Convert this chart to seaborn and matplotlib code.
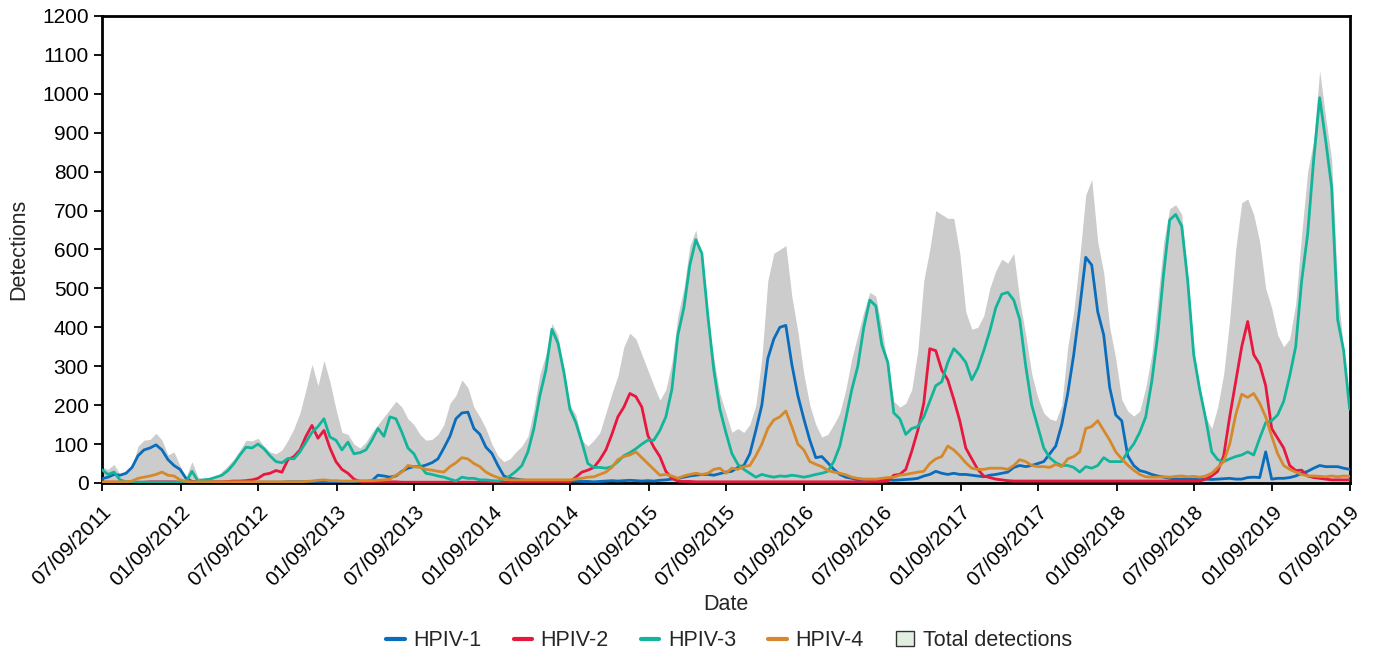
import pandas as pd
import seaborn as sns
import matplotlib.pyplot as plt
import matplotlib.dates as mdates
from matplotlib.patches import Patch
from matplotlib.lines import Line2D

# fortnightly points, 07/09/2011 -> 07/09/2019
dates = pd.date_range('2011-07-09', '2019-07-09', periods=209)

hpiv1 = [11, 15, 22, 20, 25, 40, 70, 85, 90, 98,
         85, 60, 45, 35, 12, 4, 3, 2, 2, 2,
         2, 2, 2, 2, 2, 2, 2, 2, 2, 2,
         2, 3, 3, 3, 3, 3, 3, 3, 3, 3,
         2, 3, 3, 3, 4, 6, 20, 18, 15, 18,
         30, 38, 42, 42, 46, 52, 62, 90, 120, 165,
         180, 182, 140, 125, 92, 76, 45, 18, 12, 10,
         8, 6, 5, 5, 4, 4, 4, 3, 4, 5,
         4, 4, 3, 4, 5, 6, 5, 6, 7, 6,
         5, 6, 5, 7, 8, 10, 12, 15, 18, 20,
         22, 22, 20, 24, 28, 30, 40, 45, 75, 135,
         200, 320, 370, 400, 405, 305, 225, 165, 110, 65,
         68, 52, 35, 22, 15, 12, 8, 8, 7, 7,
         8, 8, 7, 8, 9, 10, 12, 18, 22, 30,
         25, 22, 25, 22, 22, 20, 18, 16, 20, 22,
         25, 28, 40, 45, 42, 45, 50, 55, 75, 95,
         150, 230, 330, 450, 580, 560, 440, 380, 245, 175,
         160, 70, 45, 32, 28, 22, 18, 15, 12, 10,
         10, 10, 9, 10, 10, 9, 10, 11, 12, 10,
         10, 14, 15, 14, 80, 10, 12, 12, 14, 18,
         25, 30, 38, 45, 42, 42, 42, 38, 35]

hpiv2 = [2, 2, 2, 2, 2, 2, 2, 2, 3, 3,
         3, 3, 3, 2, 2, 3, 3, 3, 3, 3,
         3, 4, 5, 5, 6, 8, 12, 22, 25, 32,
         28, 60, 68, 85, 120, 148, 115, 135, 90, 55,
         35, 25, 10, 4, 3, 3, 3, 3, 3, 3,
         2, 2, 2, 2, 2, 2, 2, 2, 2, 2,
         2, 2, 2, 2, 2, 2, 2, 2, 2, 2,
         2, 2, 2, 2, 2, 2, 2, 3, 3, 15,
         28, 33, 40, 60, 85, 125, 170, 195, 230, 222,
         195, 122, 92, 68, 30, 12, 5, 4, 4, 3,
         3, 3, 3, 3, 3, 3, 3, 3, 3, 3,
         3, 3, 3, 3, 3, 3, 3, 3, 3, 3,
         3, 3, 3, 3, 3, 3, 3, 3, 4, 4,
         4, 5, 20, 22, 35, 82, 135, 205, 345, 340,
         290, 265, 215, 160, 90, 62, 35, 18, 14, 10,
         8, 6, 5, 5, 5, 5, 5, 5, 5, 5,
         5, 5, 5, 5, 5, 5, 5, 5, 5, 5,
         5, 5, 5, 5, 5, 5, 5, 5, 5, 5,
         5, 5, 5, 5, 10, 18, 30, 70, 170, 260,
         350, 415, 330, 305, 250, 140, 115, 90, 45, 32,
         33, 18, 14, 12, 10, 8, 8, 8, 8]

hpiv3 = [34, 22, 28, 8, 3, 2, 2, 2, 2, 2,
         2, 2, 2, 2, 2, 30, 5, 8, 10, 15,
         20, 32, 50, 72, 92, 90, 100, 88, 70, 55,
         52, 63, 62, 80, 105, 130, 145, 165, 118, 110,
         85, 105, 75, 78, 85, 110, 140, 120, 170, 165,
         130, 90, 75, 45, 25, 22, 18, 15, 10, 5,
         15, 12, 12, 8, 8, 6, 5, 10, 18, 30,
         45, 80, 140, 225, 290, 395, 360, 285, 190, 155,
         105, 50, 40, 40, 38, 42, 55, 70, 78, 88,
         100, 110, 110, 135, 170, 240, 380, 450, 560, 625,
         590, 430, 290, 190, 130, 76, 48, 35, 25, 15,
         22, 18, 15, 18, 17, 20, 18, 15, 18, 22,
         25, 30, 55, 95, 165, 240, 300, 400, 470, 455,
         355, 310, 180, 165, 125, 140, 145, 170, 210, 250,
         260, 310, 345, 330, 310, 265, 295, 340, 390, 450,
         485, 490, 470, 420, 300, 200, 145, 90, 65, 52,
         45, 45, 40, 28, 42, 38, 45, 65, 55, 55,
         55, 80, 100, 130, 170, 260, 380, 540, 676, 690,
         660, 520, 330, 240, 165, 80, 60, 55, 62, 68,
         72, 80, 72, 115, 155, 160, 175, 210, 275, 350,
         520, 640, 830, 990, 880, 760, 420, 340, 190]

hpiv4 = [3, 3, 3, 3, 3, 5, 12, 15, 18, 22,
         28, 20, 18, 8, 4, 3, 3, 3, 3, 3,
         3, 3, 3, 3, 3, 3, 3, 3, 3, 3,
         3, 3, 3, 3, 4, 5, 7, 8, 6, 6,
         5, 5, 5, 6, 6, 6, 7, 8, 10, 20,
         28, 45, 42, 40, 35, 33, 30, 28, 42, 52,
         65, 62, 50, 42, 28, 20, 14, 10, 8, 8,
         8, 8, 8, 8, 8, 8, 8, 8, 8, 10,
         12, 15, 16, 22, 28, 40, 60, 68, 72, 80,
         65, 50, 35, 20, 22, 18, 12, 18, 22, 25,
         22, 25, 35, 38, 25, 38, 35, 42, 45, 70,
         100, 140, 162, 170, 185, 145, 100, 85, 55, 48,
         42, 32, 28, 25, 21, 15, 12, 10, 10, 10,
         12, 14, 15, 20, 22, 25, 28, 30, 50, 62,
         68, 95, 85, 70, 52, 38, 35, 35, 38, 38,
         38, 35, 45, 60, 55, 45, 42, 42, 40, 48,
         42, 62, 68, 80, 140, 145, 160, 135, 110, 80,
         62, 46, 33, 22, 16, 15, 15, 16, 15, 17,
         18, 16, 17, 15, 18, 25, 40, 55, 100, 175,
         228, 220, 230, 205, 170, 120, 75, 45, 35, 28,
         22, 18, 18, 17, 16, 18, 16, 18, 17]

total = [42, 35, 48, 22, 25, 40, 95, 110, 112, 128,
         110, 72, 80, 45, 15, 55, 15, 12, 12, 15,
         30, 45, 62, 85, 110, 108, 115, 95, 80, 75,
         85, 110, 140, 180, 240, 305, 250, 315, 260, 190,
         130, 125, 100, 90, 105, 130, 150, 170, 190, 210,
         195, 165, 150, 125, 110, 112, 125, 150, 205, 225,
         265, 245, 195, 170, 140, 100, 70, 55, 62, 80,
         95, 120, 190, 280, 330, 410, 380, 290, 200, 175,
         110, 95, 110, 130, 180, 230, 275, 350, 385, 370,
         330, 290, 250, 213, 240, 310, 430, 500, 610, 650,
         560, 410, 320, 230, 180, 130, 140, 130, 150, 200,
         320, 520, 590, 600, 610, 480, 390, 280, 200, 150,
         118, 125, 150, 180, 240, 320, 380, 440, 490, 480,
         400, 300, 210, 195, 205, 240, 340, 520, 600, 700,
         690, 680, 680, 590, 440, 395, 400, 430, 500, 545,
         575, 565, 590, 470, 380, 280, 220, 180, 165, 160,
         200, 350, 440, 580, 740, 780, 620, 540, 400, 320,
         215, 185, 172, 185, 245, 330, 470, 620, 705, 715,
         690, 530, 340, 230, 170, 140, 195, 280, 420, 600,
         720, 730, 690, 620, 500, 450, 380, 350, 370, 460,
         640, 800, 880, 1060, 940, 830, 500, 340, 200]

series_names = ['HPIV-1', 'HPIV-2', 'HPIV-3', 'HPIV-4']
colours = ['#0a6cbc', '#e8173e', '#12b59a', '#d5892a']

df = pd.DataFrame({'Date': dates, 'HPIV-1': hpiv1, 'HPIV-2': hpiv2,
                   'HPIV-3': hpiv3, 'HPIV-4': hpiv4, 'Total': total})
long_df = df.melt(id_vars='Date', value_vars=series_names,
                  var_name='Type', value_name='Detections')

sns.set_style('ticks')
plt.rcParams['font.family'] = ['Liberation Sans', 'DejaVu Sans']

fig = plt.figure(figsize=(13.73, 6.55), dpi=100)
ax = fig.add_axes([0.0743, 0.2626, 0.9087, 0.713])

ax.fill_between(df['Date'], 0, df['Total'], color='#cccccc', lw=0, zorder=1)
sns.lineplot(data=long_df, x='Date', y='Detections', hue='Type',
             palette=colours, hue_order=series_names, lw=2.0,
             legend=False, ax=ax, zorder=3)

ax.set_xlim(pd.Timestamp('2011-07-09'), pd.Timestamp('2019-07-09'))
ax.set_ylim(0, 1200)
ax.set_yticks(range(0, 1201, 100))

tick_dates = []
for yr in range(2011, 2020):
    if yr > 2011:
        tick_dates.append(pd.Timestamp(f'{yr}-01-09'))
    tick_dates.append(pd.Timestamp(f'{yr}-07-09'))
ax.set_xticks(tick_dates)
ax.xaxis.set_major_formatter(mdates.DateFormatter('%m/%d/%Y'))
plt.setp(ax.get_xticklabels(), rotation=45, ha='right', rotation_mode='anchor')

ax.tick_params(axis='both', labelsize=15, direction='out', length=6, width=1.3, colors='black')
ax.tick_params(axis='x', pad=8)
for s in ax.spines.values():
    s.set_linewidth(2)
    s.set_color('black')

ax.set_xlabel('Date', fontsize=15.5)
ax.set_ylabel('Detections', fontsize=15.5)
ax.xaxis.set_label_coords(0.5, -0.237)
ax.yaxis.set_label_coords(-0.058, 0.5)

handles = [Line2D([0], [0], color=c, lw=3) for c in colours]
handles.append(Patch(facecolor='#e0efdf', edgecolor='#333333', lw=1))
fig.legend(handles, series_names + ['Total detections'], loc='center',
           bbox_to_anchor=(0.531, 0.0214), ncol=5, frameon=False, fontsize=15.5,
           handlelength=0.85, handletextpad=0.4, columnspacing=1.5)

fig.savefig('out.png', dpi=100)
